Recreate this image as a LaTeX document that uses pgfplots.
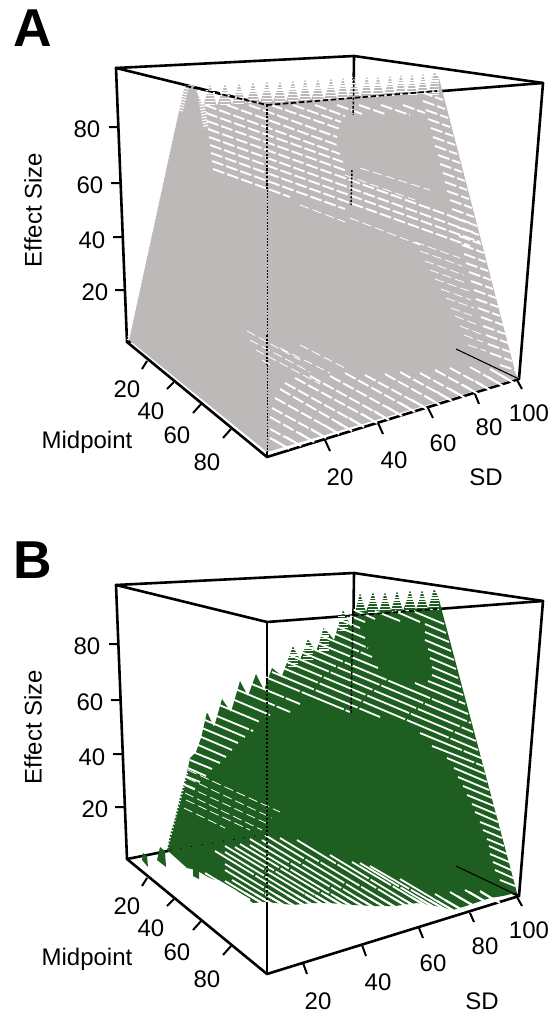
\documentclass[border=0pt]{standalone}
\usepackage{fontspec}
\setmainfont{Liberation Sans}
\usepackage{pgfplots}
\pgfplotsset{compat=1.18}
\definecolor{gA}{HTML}{BDB9B8}
\definecolor{gB}{HTML}{1E5E20}
\newcommand{\J}{(nan,nan)}
\pgfplotsset{
 box/.style={black,line width=1.95pt,line cap=round,line join=round},
 tk/.style={black,line width=1.5pt,unbounded coords=jump},
 row/.style={white,line width=1.4pt,dash pattern=on 9pt off 2.2pt,unbounded coords=jump},
 thin row/.style={white,line width=.6pt,dash pattern=on 7pt off 3pt,unbounded coords=jump},
 long row/.style={white,line width=1.35pt,dash pattern=on 34pt off 1.5pt,unbounded coords=jump},
 notch/.style={white,line width=1.5pt,unbounded coords=jump},
 stripe/.style={white,line width=7.5pt,dash pattern=on .9pt off 1.2pt,unbounded coords=jump},
 stripe2/.style={white,line width=4pt,dash pattern=on .9pt off 1.2pt,unbounded coords=jump},
 serr/.style={white,line width=1.8pt,dash pattern=on 1pt off 1.6pt,unbounded coords=jump},
}
\tikzset{
 lab/.style={font=\fontsize{18}{20}\selectfont,inner sep=0pt,anchor=center},
 big/.style={font=\fontsize{40}{42}\selectfont\bfseries,inner sep=0pt,anchor=center},
}
\begin{document}
\begin{tikzpicture}
\begin{axis}[
 scale only axis,width=415.5pt,height=759.75pt,
 xmin=0,xmax=554,ymin=0,ymax=1013,y dir=reverse,
 hide axis,clip=false]
% ---------- page corners
\addplot[draw=none] coordinates {(0,0)(554,1013)};
% ---------- PANEL A : box
\addplot[box] coordinates {(116,68)(354,56)(543,83)(519,379)};
\addplot[box] coordinates {(354,56)(351,298)};
\addplot[box] coordinates {(127,342)(351,298)(519,379)};
\addplot[box] coordinates {(116,68)(127,342)(267,457)(519,379)};
\addplot[box] coordinates {(116,68)(267,105)(543,83)};
\addplot[box] coordinates {(267,105)(267,457)};
% grey cloud
\addplot[fill=gA,draw=none] coordinates {
(183,92)(186,85)(194,85)(203,106)(210,84)(217,106)(225,84)(232,105)(239,83)(246,104)(253,82)(260,103)(267,81)(273,102)(280,81)(286,102)(293,80)(299,101)(305,79)(311,100)(318,79)(324,100)(331,78)(337,99)(343,77)(348,98)(354,77)(360,98)(367,76)(372,97)(378,76)(384,96)(390,75)(395,96)(401,74)(406,95)(412,74)(417,94)(423,73)(428,94)(434,72)(439,78)
(516,375)(519,378)(267,452)(129,340)};
% stripes in the top teeth
\addplot[stripe] coordinates {
(210,84)(210,106)\J(225,84)(225,106)\J(239,83)(239,105)\J(253,82)(253,104)\J(267,81)(267,103)\J(280,81)(280,103)\J(293,80)(293,102)\J(305,79)(305,101)\J(318,79)(318,101)\J(331,78)(331,100)\J(343,77)(343,99)\J(354,77)(354,99)\J(367,76)(367,98)\J(378,76)(378,97)\J(390,75)(390,97)\J(401,74)(401,96)\J(412,74)(412,95)\J(423,73)(423,95)\J(434,72)(434,95)};
\addplot[stripe2] coordinates {(200,92)(206,128)\J(186,88)(180,112)};
% serrated left edge
\addplot[serr] coordinates {(182,92)(128,340)};
% upper rows
\addplot[row] coordinates {
(403,105)(425,113)\J(381,105)(410,115)\J(359,105)(385,114)\J(337,105)(362,114)\J(315,105)(345,116)\J(293,105)(341,122)\J(271,105)(340,129)\J(249,105)(337,137)\J(227,105)(337,145)\J(205,105)(340,154)\J(206,113)(343,162)\J(207,121)(347,171)\J(208,129)(470,223)\J(209,137)(475,233)\J(210,145)(480,242)\J(211,153)(470,246)\J(212,161)(345,209)\J(213,169)(290,197)};
% right strip
\addplot[row] coordinates {
(421,92)(443,100)\J(423,101)(445,109)\J(426,110)(448,118)\J(428,119)(450,127)\J(431,128)(453,136)\J(433,137)(455,145)\J(435,146)(457,154)\J(438,155)(460,163)\J(440,164)(462,172)\J(443,173)(465,181)\J(445,182)(467,190)\J(447,191)(469,199)\J(450,200)(472,208)\J(452,209)(474,217)\J(455,218)(477,226)\J(457,227)(479,235)\J(459,236)(481,244)\J(462,245)(484,253)\J(464,254)(486,262)\J(466,263)(488,271)\J(469,272)(491,280)\J(471,281)(493,289)\J(474,290)(496,298)\J(476,299)(498,307)\J(478,308)(500,316)\J(481,317)(503,325)\J(483,326)(505,334)\J(486,335)(508,343)\J(488,344)(510,352)\J(490,353)(512,361)\J(500,365)(515,370)};
\addplot[thin row] coordinates {
(415,242)(460,258)\J(420,251)(462,266)\J(425,261)(464,275)\J(430,270)(466,283)\J(435,279)(469,291)\J(441,289)(471,300)\J(446,298)(474,308)\J(451,308)(476,317)\J(455,316)(478,325)\J(460,326)(481,334)\J(464,335)(483,342)\J(468,345)(486,351)\J
(350,218)(420,245)\J(300,205)(345,222)\J(345,175)(415,200)\J(360,168)(430,190)};
% bottom rows
\addplot[row] coordinates {
(270,438)(286,447)\J(270,429)(298,444)\J(270,417)(311,440)\J(272,408)(323,436)\J(275,398)(336,432)\J(280,389)(349,429)\J(285,383)(361,425)\J(295,378)(374,421)\J(310,376)(386,418)\J(330,376)(399,414)\J(345,373)(412,410)\J(365,375)(424,407)\J(385,374)(437,403)\J(400,372)(449,399)\J(420,373)(462,396)\J(435,370)(475,392)\J(450,368)(487,388)\J(470,367)(500,384)\J(490,369)(511,381)};
\addplot[notch] coordinates {
(274,440)(289,449)\J(286,437)(301,446)\J(299,433)(314,442)\J(311,429)(326,438)\J(324,425)(339,434)\J(337,422)(352,431)\J(349,418)(364,427)\J(362,414)(377,423)\J(374,411)(389,420)\J(387,407)(402,416)\J(400,403)(415,412)\J(412,400)(427,409)\J(425,396)(440,405)\J(437,392)(452,401)\J(450,389)(465,398)\J(463,385)(478,394)\J(475,381)(490,390)\J(488,377)(503,386)\J(499,374)(514,383)};
\addplot[thin row] coordinates {(247,331)(300,360)\J(250,340)(310,372)\J(256,350)(320,384)\J(262,360)(272,366)\J(300,345)(345,368)\J(280,348)(330,373)};
% black through the cloud
\addplot[black,line width=1.3pt,dash pattern=on 4pt off 1.6pt] coordinates {(186,86)(267,105)};
\addplot[black,line width=1.3pt,dash pattern=on 4pt off 2pt] coordinates {(267,105)(437,91)};
\addplot[black,line width=1.1pt,dash pattern=on 1.6pt off 1.2pt] coordinates {(267,105)(267,190)};
\addplot[black,line width=.45pt,dash pattern=on 1.2pt off 1.2pt] coordinates {(267,190)(267,335)};
\addplot[black,line width=.9pt,dash pattern=on 1.5pt off 1.2pt] coordinates {(267,335)(267,365)};
\addplot[black,line width=.45pt,dash pattern=on 1.2pt off 1.2pt] coordinates {(267,365)(267,452)};
\addplot[black,line width=1.1pt,dash pattern=on 2pt off 1.2pt] coordinates {(354,76)(353,115)};
\addplot[black,line width=1.1pt,dash pattern=on 1.6pt off 1.2pt] coordinates {(352,170)(351,205)};
\addplot[black,line width=.8pt] coordinates {(456,349)(519,379)};
% ticks A
\addplot[tk] coordinates {(109,127)(118,127)\J(111,183)(120,183)\J(113,237)(122,237)\J(115,290)(124,290)\J
(147,361)(142,369)\J(174,382)(167,389)\J(202,403)(193,413)\J(231,429)(223,438)\J
(325,440)(330,451)\J(378,423)(383,434)\J(428,408)(433,418)\J(475,394)(479,404)\J(517,380)(522,389)};
\node[big] at (axis cs:33,28) {A};
\node[lab,rotate=90] at (axis cs:33,210) {Effect Size};
\node[lab] at (axis cs:87,129) {80};
\node[lab] at (axis cs:90,185) {60};
\node[lab] at (axis cs:92,240) {40};
\node[lab] at (axis cs:95,292) {20};
\node[lab] at (axis cs:127,389) {20};
\node[lab] at (axis cs:151,411) {40};
\node[lab] at (axis cs:177,435) {60};
\node[lab] at (axis cs:207,462) {80};
\node[lab] at (axis cs:87,442) {Midpoint};
\node[lab] at (axis cs:340,477) {20};
\node[lab] at (axis cs:394,460) {40};
\node[lab] at (axis cs:443,443) {60};
\node[lab] at (axis cs:489,427) {80};
\node[lab] at (axis cs:529,413) {100};
\node[lab] at (axis cs:486,477) {SD};
% ---------- PANEL B : box
\addplot[box] coordinates {(116,585)(354,573)(543,601)(519,896)};
\addplot[box] coordinates {(354,573)(351,815)};
\addplot[box] coordinates {(127,859)(351,815)(519,896)};
\addplot[box] coordinates {(116,585)(127,859)(267,974)(519,896)};
\addplot[box] coordinates {(116,585)(267,622)(543,601)};
\addplot[box] coordinates {(267,622)(267,974)};
% green cloud
\addplot[fill=gB,draw=none] coordinates {
(360,593)(366,612)(373,592)(379,612)(385,592)(391,611)(397,591)(403,611)(410,590)(416,610)(422,590)(428,609)(434,589)(438,596)
(517,893)(515,893)(503,896)(490,898)(478,902)(466,906)(453,910)(435,906)(417,903)(395,906)(373,906)(352,905)(329,903)(312,903)(293,905)(267,902)(253,903)(240,893)(225,885)(208,877)(196,870)(187,868)(167,850)
(170,835)(175,818)(180,797)(187,773)(190,758)(196,752)(201,738)(207,712)(214,727)(222,699)(231,712)(240,681)(248,696)(256,674)(264,690)(272,668)(282,676)(293,646)(300,660)(308,639)(316,652)(324,627)(334,640)(343,610)(351,627)};
\addplot[fill=gB,draw=none] coordinates {(143,853)(147,856)(148,867)(142,860)};
\addplot[fill=gB,draw=none] coordinates {(160,847)(165,851)(166,867)(157,860)};
\addplot[fill=gB,draw=none] coordinates {(193,868)(199,870)(199,879)(193,876)};
% stripes in the top teeth of B
\addplot[stripe] coordinates {
(360,593)(360,612)\J(373,592)(373,612)\J(385,592)(385,611)\J(397,591)(397,611)\J(410,590)(410,610)\J(422,590)(422,609)\J(434,589)(434,609)\J
(293,646)(293,668)\J(308,639)(308,660)\J(324,627)(324,652)\J(343,610)(343,632)};
\addplot[serr] coordinates {(187,773)(167,848)};
% upper rows of B
\addplot[long row] coordinates {
(258,674)(350,712)\J(272,672)(380,717)\J(276,665)(478,750)\J(280,659)(476,741)\J(287,654)(473,732)\J(294,649)(471,723)\J(301,644)(468,714)\J
(308,639)(378,668)\J(415,683)(465,704)\J(317,634)(372,657)\J(428,681)(463,695)\J(324,629)(368,648)\J(432,675)(461,687)\J(331,624)(365,638)\J(432,667)(458,678)\J(338,619)(360,628)\J(430,658)(456,669)\J(345,614)(365,622)\J(428,649)(454,660)\J(352,609)(375,619)\J(425,640)(451,651)\J(375,611)(400,621)\J(425,632)(449,642)\J(395,611)(420,622)\J(425,624)(446,633)\J(415,612)(444,624)\J
(420,733)(481,758)\J(432,746)(483,766)\J(447,758)(485,774)\J(454,768)(487,782)\J(458,777)(489,790)\J(463,786)(492,798)\J(467,795)(494,806)\J(472,804)(496,814)\J(475,812)(498,822)\J(480,822)(500,830)\J(483,830)(502,838)\J(487,839)(504,846)\J(489,846)(507,854)\J(490,854)(509,862)\J(493,862)(511,870)\J(495,870)(513,878)\J(500,880)(515,886)\J
(242,680)(300,704)\J(233,688)(290,712)\J(225,696)(270,715)\J(217,704)(260,722)\J(207,712)(253,731)\J(205,720)(245,737)\J(202,728)(238,743)\J(199,736)(232,750)\J(196,744)(226,757)\J(193,752)(220,763)\J(190,760)(212,769)\J(188,768)(206,776)\J(185,776)(200,782)\J(183,784)(195,789)};
% upper-left thin rows in the dense part
\addplot[thin row] coordinates {(188,770)(280,812)\J(187,778)(272,818)\J(186,786)(268,824)\J(185,793)(262,830)\J(186,800)(250,830)\J(184,808)(225,828)};
% lower rows of B
\addplot[long row] coordinates {
(480,891)(496,901)\J(465,890)(484,901)\J(450,892)(472,905)\J(435,894)(460,909)\J(370,866)(444,909)\J(352,862)(426,906)\J(297,840)(406,906)\J(265,835)(384,907)\J(250,839)(362,906)\J(240,844)(340,904)\J(225,846)(320,903)\J(215,851)(302,904)\J(225,870)(280,903)\J(225,881)(260,902)\J(215,880)(246,898)\J(205,873)(233,890)\J
(330,855)(416,907)\J(280,838)(395,907)\J(262,840)(373,907)\J(250,845)(351,906)\J(235,847)(330,904)\J(225,852)(311,904)\J(225,864)(291,904)\J(232,880)(270,903)\J(400,879)(452,910)\J(360,863)(435,908)};
\addplot[notch] coordinates {
(481,892)(500,903)\J(469,892)(488,903)\J(457,896)(476,907)\J(445,900)(464,911)\J(429,900)(448,911)\J(411,897)(430,908)\J(391,897)(410,908)\J(369,898)(388,909)\J(347,897)(366,908)\J(325,895)(344,906)\J(305,894)(324,905)\J(287,895)(306,906)\J(265,894)(284,905)\J(245,893)(264,904)\J(231,889)(250,900)\J(218,881)(237,892)\J
(401,898)(420,909)\J(380,898)(399,909)\J(358,898)(377,909)\J(336,897)(355,908)\J(315,895)(334,906)\J(296,895)(315,906)\J(276,895)(295,906)\J(255,894)(274,905)\J(437,901)(456,912)\J(420,899)(439,910)};
% black through the cloud B
\addplot[black,line width=1.3pt,dash pattern=on 4pt off 2pt] coordinates {(345,616)(437,609)};
\addplot[black,line width=1.1pt,dash pattern=on 2pt off 1.2pt] coordinates {(353,608)(351,713)};
\addplot[black,line width=.8pt,dash pattern=on 1.5pt off 1.5pt] coordinates {(267,670)(267,905)};
\addplot[black,line width=.8pt] coordinates {(456,866)(519,896)};
\addplot[black,line width=.6pt,dash pattern=on 1pt off 7pt] coordinates {(170,850)(267,834)};
% ticks B
\addplot[tk] coordinates {(109,644)(118,644)\J(111,700)(120,700)\J(113,754)(122,754)\J(115,807)(124,807)\J
(147,878)(142,886)\J(174,899)(167,906)\J(202,920)(193,930)\J(231,946)(223,955)\J
(303,963)(307,974)\J(362,945)(366,956)\J(419,928)(423,938)\J(470,913)(474,922)\J(517,897)(522,906)};
\node[big] at (axis cs:33,560) {B};
\node[lab,rotate=90] at (axis cs:33,727) {Effect Size};
\node[lab] at (axis cs:87,646) {80};
\node[lab] at (axis cs:90,702) {60};
\node[lab] at (axis cs:92,757) {40};
\node[lab] at (axis cs:95,809) {20};
\node[lab] at (axis cs:127,906) {20};
\node[lab] at (axis cs:151,928) {40};
\node[lab] at (axis cs:177,952) {60};
\node[lab] at (axis cs:207,979) {80};
\node[lab] at (axis cs:87,959) {Midpoint};
\node[lab] at (axis cs:318,1001) {20};
\node[lab] at (axis cs:378,982) {40};
\node[lab] at (axis cs:433,963) {60};
\node[lab] at (axis cs:485,946) {80};
\node[lab] at (axis cs:529,930) {100};
\node[lab] at (axis cs:482,1001) {SD};
\end{axis}
\end{tikzpicture}
\end{document}
